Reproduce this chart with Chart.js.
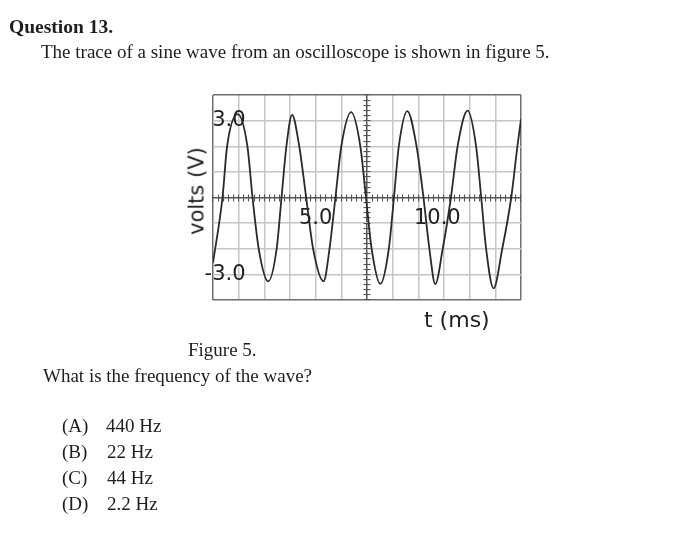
<!DOCTYPE html>
<html>
<head>
<meta charset="utf-8">
<script src="https://cdn.jsdelivr.net/npm/chart.js@4.4.1/dist/chart.umd.min.js"></script>
<style>
html,body{margin:0;padding:0;background:#fff;}
body{width:674px;height:536px;position:relative;overflow:hidden;}
#c{position:absolute;left:0;top:0;}
.t{position:absolute;white-space:nowrap;font-family:"Liberation Serif","Times New Roman",serif;font-size:19px;line-height:19px;color:#1e1e1e;}
.s{position:absolute;white-space:nowrap;font-family:"DejaVu Sans",Verdana,sans-serif;color:#222;}
</style>
</head>
<body>
<canvas id="c" width="674" height="536"></canvas>
<div class="t" style="left:9px;top:17px;font-weight:bold;font-size:19.5px;">Question 13.</div>
<div class="t" style="left:41px;top:42px;">The trace of a sine wave from an oscilloscope is shown in figure 5.</div>
<div class="s" style="left:197px;top:191px;font-size:21px;line-height:21px;transform:translate(-50%,-50%) rotate(-90deg);">volts (V)</div>
<div class="s" style="left:424px;top:309px;font-size:22px;line-height:22px;">t (ms)</div>
<div class="t" style="left:188px;top:340px;">Figure 5.</div>
<div class="t" style="left:43px;top:366px;">What is the frequency of the wave?</div>
<div class="t" style="left:62px;top:416px;">(A)</div><div class="t" style="left:106px;top:416px;">440 Hz</div>
<div class="t" style="left:62px;top:442px;">(B)</div><div class="t" style="left:107px;top:442px;">22 Hz</div>
<div class="t" style="left:62px;top:468px;">(C)</div><div class="t" style="left:107px;top:468px;">44 Hz</div>
<div class="t" style="left:62px;top:494px;">(D)</div><div class="t" style="left:107px;top:494px;">2.2 Hz</div>
<script>
// Values (time in ms, volts)
const timeMs = [0.00,0.37,0.55,0.96,1.34,1.54,1.78,2.15,2.48,2.67,2.86,3.08,3.36,3.63,3.90,4.31,4.54,4.77,5.00,5.38,5.74,5.96,6.18,6.52,6.85,7.05,7.24,7.57,7.93,8.20,8.43,8.66,8.95,9.27,9.53,9.92,10.25,10.45,10.64,10.93,11.27,11.62,11.86,12.00];
const voltage = [-2.55,0,2.0,3.25,2.0,0,-2.0,-3.27,-2.0,0,2.0,3.22,2.0,0,-2.0,-3.27,-2.0,0,2.0,3.33,2.0,0,-2.0,-3.37,-2.0,0,2.0,3.37,2.0,0,-2.0,-3.38,-2.0,0,2.0,3.39,2.0,0,-2.0,-3.55,-2.0,0,2.0,3.05];
const xLabelValues = [5, 10];
const yLabelValues = [3, -3];
const xRange = [0, 12];
const yRange = [-4, 4];

const GRID = '#c6c6c6', FRAME = '#6e6e6e', AXIS = '#555555', TRACE = '#2a2a2a';
const labelFont = {family: 'DejaVu Sans', size: 21};

function tickScale(axis, pos, len) {
  const r = axis === 'x' ? xRange : yRange;
  return {
    type: 'linear', position: pos, min: r[0], max: r[1],
    ticks: {display: false, stepSize: 0.2},
    grid: {display: true, drawOnChartArea: false, drawTicks: true, tickLength: len, color: AXIS, lineWidth: 1.1},
    border: {display: false}
  };
}

new Chart(document.getElementById('c'), {
  type: 'line',
  data: {
    datasets: [{
      data: timeMs.map((t, i) => ({x: t, y: voltage[i]})),
      borderColor: TRACE, borderWidth: 1.8, pointRadius: 0,
      cubicInterpolationMode: 'monotone', fill: false
    }]
  },
  options: {
    responsive: false, animation: false, devicePixelRatio: 1,
    layout: {padding: {left: 213, top: 95, right: 153, bottom: 236}},
    plugins: {legend: {display: false}, tooltip: {enabled: false}},
    scales: {
      x: {
        type: 'linear', min: xRange[0], max: xRange[1],
        ticks: {display: false, stepSize: 1},
        grid: {drawTicks: false, lineWidth: 1.5,
          color: c => (c.tick.value === xRange[0] || c.tick.value === xRange[1]) ? FRAME : (c.tick.value === 6 ? AXIS : GRID)},
        border: {display: false}
      },
      y: {
        type: 'linear', min: yRange[0], max: yRange[1],
        ticks: {display: false, stepSize: 1},
        grid: {drawTicks: false, lineWidth: 1.5,
          color: c => (c.tick.value === yRange[0] || c.tick.value === yRange[1]) ? FRAME : (c.tick.value === 0 ? AXIS : GRID)},
        border: {display: false}
      },
      xTickDown: tickScale('x', {y: 0}, 3.5),
      xTickUp: tickScale('x', {y: 0}, -3.5),
      yTickLeft: tickScale('y', {x: 6}, 3.5),
      yTickRight: tickScale('y', {x: 6}, -3.5),
      xLabels: {
        type: 'linear', position: {y: 0}, min: xRange[0], max: xRange[1],
        afterBuildTicks: s => { s.ticks = xLabelValues.map(v => ({value: v})); },
        ticks: {display: true, autoSkip: false, align: 'end', labelOffset: -9, padding: 8,
          maxRotation: 0, minRotation: 0, font: labelFont, color: '#222',
          callback: v => Number(v).toFixed(1)},
        grid: {display: false, drawTicks: false},
        border: {display: false}
      },
      yLabels: {
        type: 'linear', position: {x: 1.27}, min: yRange[0], max: yRange[1],
        afterBuildTicks: s => { s.ticks = yLabelValues.map(v => ({value: v})); },
        ticks: {display: true, autoSkip: false, padding: 0, font: labelFont, color: '#222',
          callback: v => Number(v).toFixed(1)},
        grid: {display: false, drawTicks: false},
        border: {display: false}
      }
    }
  }
});
</script>
</body>
</html>
